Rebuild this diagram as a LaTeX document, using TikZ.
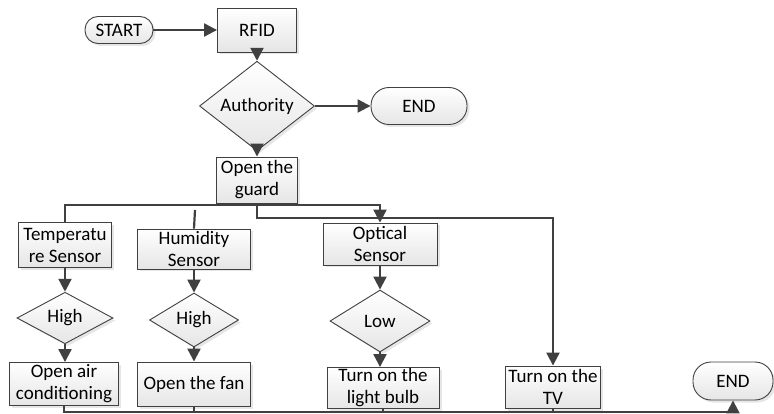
\documentclass[tikz,border=0pt]{standalone}
\usepackage{fontspec}
\setmainfont{Carlito}
\usetikzlibrary{shapes.geometric,shadows,arrows.meta}
\definecolor{edge}{HTML}{404040}
\tikzset{
  base/.style={draw=edge, line width=0.9pt, top color=white, bottom color=black!10,
    drop shadow={shadow xshift=2.5pt, shadow yshift=-2.5pt, opacity=0.2},
    inner sep=0pt, align=center, font=\fontsize{19}{22}\selectfont},
  procbox/.style={base, rectangle},
  termbox/.style={base, rectangle, rounded corners=13pt},
  decbox/.style={base, diamond},
  conn/.style={draw=edge, line width=2.2pt},
  arr/.style={conn, -{Triangle[length=13pt,width=13pt]}}
}
\begin{document}
\begin{tikzpicture}[x=1pt,y=-1pt]
\useasboundingbox (0,0) rectangle (774,414);
\node[termbox, minimum width=68pt, minimum height=27pt] (start) at (119,30) {START};
\node[procbox, minimum width=79pt, minimum height=44pt] (rfid) at (257,30) {RFID};
\node[decbox, minimum width=115pt, minimum height=68pt] (auth) at (257,106) {Authority};
\node[termbox, minimum width=96pt, minimum height=37pt, rounded corners=18pt] (end1) at (419,106) {END};
\node[procbox, minimum width=81pt, minimum height=46pt] (guard) at (257,180) {Open the\\guard};
\node[procbox, minimum width=93pt, minimum height=45pt] (temp) at (65,245) {Temperatu\\re Sensor};
\node[procbox, minimum width=113pt, minimum height=40pt] (hum) at (194,249) {Humidity\\Sensor};
\node[procbox, minimum width=114pt, minimum height=42pt] (opt) at (380,244) {Optical\\Sensor};
\node[decbox, minimum width=96pt, minimum height=49pt] (high1) at (65,318) {High};
\node[decbox, minimum width=89pt, minimum height=54pt] (high2) at (194,320) {High};
\node[decbox, minimum width=100pt, minimum height=62pt] (low) at (380,321) {Low};
\node[procbox, minimum width=109pt, minimum height=43pt] (air) at (64,384) {Open air\\conditioning};
\node[procbox, minimum width=113pt, minimum height=44pt] (fan) at (194,384) {Open the fan};
\node[procbox, minimum width=112pt, minimum height=41pt] (bulb) at (383,388) {Turn on the\\light bulb};
\node[procbox, minimum width=95pt, minimum height=42pt] (tv) at (553,387) {Turn on the\\TV};
\node[termbox, minimum width=80pt, minimum height=38pt, rounded corners=18pt] (end2) at (733,381) {END};
\coordinate (bus) at (0,205);
\coordinate (tvbus) at (0,218);
\coordinate (bot) at (0,412);
\coordinate (hstub) at (195,210);
\draw[arr] (start.east) -- (rfid.west);
\draw[arr] (rfid.south) -- (auth.north);
\draw[arr] (auth.east) -- (end1.west);
\draw[arr] (auth.south) -- (guard.north);
\draw[arr] (temp.north) |- (bus -| opt.north) -- (opt.north);
\draw[arr] (guard.south) |- (tvbus -| tv.north) -- (tv.north);
\draw[conn] (hstub) -- (hum.north);
\draw[arr] (temp.south) -- (high1.north);
\draw[arr] (high1.south) -- (high1.south |- air.north);
\draw[arr] (hum.south) -- (high2.north);
\draw[arr] (high2.south) -- (fan.north);
\draw[arr] (opt.south) -- (low.north);
\draw[arr] (low.south) -- (low.south |- bulb.north);
\draw[arr] (air.south) |- (bot -| end2.south) -- (end2.south);
\draw[conn] (fan.south) -- (fan.south |- bot);
\draw[conn] (bulb.south) -- (bulb.south |- bot);
\draw[conn] (tv.south) -- (tv.south |- bot);
\end{tikzpicture}
\end{document}
